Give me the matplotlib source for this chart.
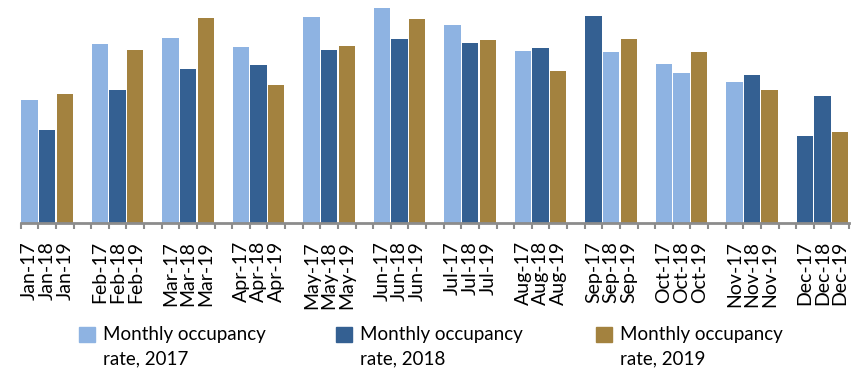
import numpy as np
import matplotlib.pyplot as plt
from matplotlib.patches import Rectangle

plt.rcParams['font.family'] = ['Lato', 'DejaVu Sans']

months = ['Jan', 'Feb', 'Mar', 'Apr', 'May', 'Jun',
          'Jul', 'Aug', 'Sep', 'Oct', 'Nov', 'Dec']
years = ['17', '18', '19']

# monthly occupancy rate (%)
occ_2017 = [55.2, 80.3, 83.0, 78.9, 92.4, 96.4, 88.8, 77.1, 92.8, 71.3, 63.2, 39.0]
occ_2018 = [41.7, 59.6, 69.1, 70.9, 77.6, 82.5, 80.7, 78.5, 76.7, 67.3, 66.4, 57.0]
occ_2019 = [57.8, 77.6, 91.9, 61.9, 79.4, 91.5, 82.1, 68.2, 82.5, 76.7, 59.6, 40.8]

# fill used for each bar (0 = 2017 colour, 1 = 2018 colour, 2 = 2019 colour)
fill_2017 = [0, 0, 0, 0, 0, 0, 0, 0, 1, 0, 0, 1]
fill_2018 = [1, 1, 1, 1, 1, 1, 1, 1, 0, 0, 1, 1]
fill_2019 = [2] * 12

legend_labels = ['Monthly occupancy\nrate, 2017',
                 'Monthly occupancy\nrate, 2018',
                 'Monthly occupancy\nrate, 2019']
palette = ['#8EB3E2', '#346092', '#A3823F']

series = [occ_2017, occ_2018, occ_2019]
fills = [fill_2017, fill_2018, fill_2019]

fig = plt.figure(figsize=(8.55, 3.68), dpi=100)
ax = fig.add_axes([20.7 / 855, 145 / 368, 828.3 / 855, 223 / 368])

# each month takes three slots plus one empty slot between months
pos, labels = [], []
for k in range(3):
    x = [4 * m + k for m in range(12)]
    ax.bar(x, series[k], width=0.93, color=[palette[c] for c in fills[k]],
           linewidth=0)
for m in range(12):
    for k in range(3):
        pos.append(4 * m + k)
        labels.append(f'{months[m]}-{years[k]}')

ax.set_xlim(-0.5, 46.5)
ax.set_ylim(0, 100)
ax.set_yticks([])
for s in ['left', 'right', 'top']:
    ax.spines[s].set_visible(False)
ax.spines['bottom'].set_color('#8C8C8C')
ax.spines['bottom'].set_linewidth(2)

ax.set_xticks(pos)
ax.set_xticklabels(labels, rotation=90, fontsize=14)
ax.set_xticks(np.arange(-0.5, 47, 1), minor=True)
ax.tick_params(axis='x', which='major', length=0, pad=13)
ax.tick_params(axis='x', which='minor', length=4.5, width=1.5, color='#8C8C8C')

# legend below the axis: square swatch next to a two-line label
leg_x = [79, 336, 596]
for i in range(3):
    fig.add_artist(Rectangle((leg_x[i] / 855, 26.3 / 368), 16 / 855, 15 / 368,
                             transform=fig.transFigure, color=palette[i]))
    for j, line in enumerate(legend_labels[i].split('\n')):
        fig.text((leg_x[i] + 24) / 855, 1 - (340 + 24 * j) / 368, line,
                 fontsize=13.5, va='baseline', ha='left')

fig.savefig('out.png', dpi=100)
